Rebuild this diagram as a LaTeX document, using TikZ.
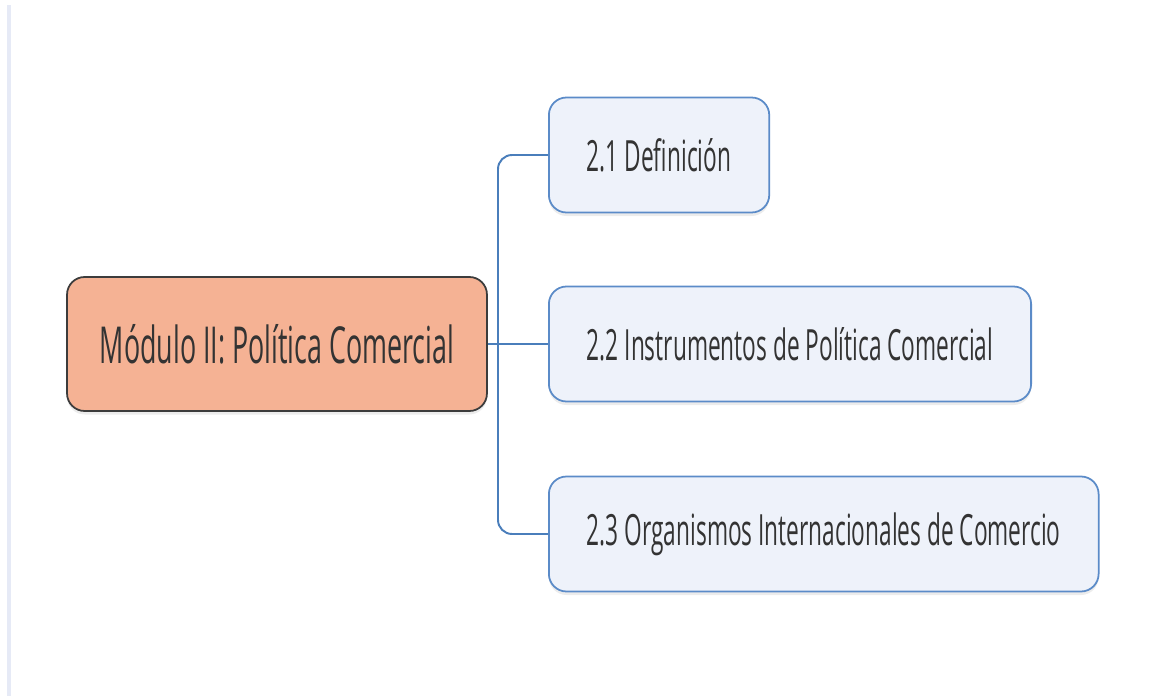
\documentclass[tikz,border=0pt]{standalone}
\usepackage{fontspec}
\setmainfont{Open Sans}[FakeStretch=0.527]
\usetikzlibrary{shadows}

\definecolor{mainfill}{HTML}{F5B294}
\definecolor{mainborder}{HTML}{3C3C3C}
\definecolor{subfill}{HTML}{EEF2FA}
\definecolor{subborder}{HTML}{5B8BC8}
\definecolor{linkblue}{HTML}{4A7EBB}
\definecolor{textgray}{HTML}{333333}
\definecolor{edgegray}{HTML}{E6EAF6}

\begin{document}
\begin{tikzpicture}[
        x = 0.02cm, y = -0.02cm,
        topic/.style = {
            rounded corners = 10pt,
            line width = 1pt,
            align = center,
            text = textgray,
            drop shadow = {opacity = 0.15, shadow xshift = 0pt, shadow yshift = -2pt},
        },
        central/.style = {
            topic, draw = mainborder, fill = mainfill,
            font = \fontsize{29}{34}\selectfont,
            minimum width = 8.4cm, minimum height = 2.68cm,
        },
        subtopic/.style = {
            topic, draw = subborder, fill = subfill,
            font = \fontsize{24.5}{30}\selectfont,
            anchor = west, inner xsep = 0.76cm, minimum height = 2.3cm,
        },
        link/.style = {draw = linkblue, line width = 1.1pt},
        ]

        \useasboundingbox (0,0) rectangle (1154,696);
        \draw[edgegray, line width = 2pt] (9,5) -- (9,696);

        % Nodos
        \node[central] (modulo) at (277,344) {Módulo II: Política Comercial};
        \node[subtopic] (definicion) at (548,155) {2.1 Definición};
        \node[subtopic] (instrumentos) at (548,344) {2.2 Instrumentos de Política Comercial};
        \node[subtopic] (organismos) at (548,534) {2.3 Organismos Internacionales de Comercio};

        % Conexiones
        \coordinate (tronco) at (498,344);
        \draw[link] (modulo.east) -- (instrumentos.west);
        \draw[link, rounded corners = 8pt] (definicion.west) -| (tronco) |- (organismos.west);
\end{tikzpicture}
\end{document}
